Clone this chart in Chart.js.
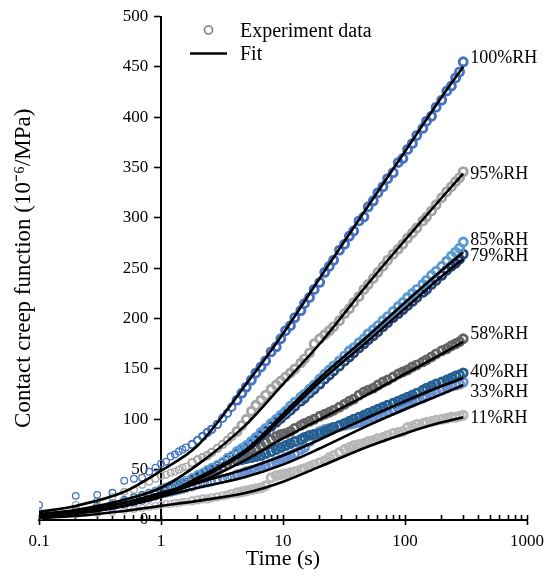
<!DOCTYPE html>
<html><head><meta charset="utf-8">
<script src="https://cdn.jsdelivr.net/npm/chart.js@4.4.1/dist/chart.umd.min.js"></script>
<style>html,body{margin:0;padding:0;background:#fff}canvas{display:block}</style>
</head><body>
<canvas id="c" width="552" height="577"></canvas>
<script>
// ---------- data ----------
const time = [0.1,0.2,0.3,0.4,0.5,0.6,0.7,0.8,0.9,1,
  1.1,1.2,1.3,1.4,1.5,1.6,1.8,2,
  2.2,2.4,2.6,2.9,3.2,3.5,3.8,4.2,4.6,5,5.5,6,6.6,7.2,8,8.8,9.6,
  10.5,11.5,12.5,14,15,16.5,18,20,22,24,26,29,32,35,38,42,46,50,55,60,66,72,80,88,96,
  105,115,125,140,150,165,180,200,220,240,260,280,300];

const exp100 = [15,24,25,27,39,41,42,48,52,56,
  58,63,65,68,70,72,75,79,
  83,87,90,95,101,106,112,119,126,132,139,146,152,158,167,172,180,
  188,193,201,208,215,221,229,236,246,252,258,268,274,282,287,297,301,311,317,325,331,339,345,355,359,
  368,374,382,389,396,401,410,417,426,431,439,445,455];
const exp95 = [8,15,19,23,28,30,35,38,41,44,
  45,47,48,50,52,53,57,60,
  62,64,67,71,75,79,83,88,94,100,108,114,119,124,130,134,138,
  142,146,150,156,160,166,175,180,184,188,192,198,205,210,216,222,229,234,240,246,252,258,264,269,274,
  280,285,290,297,301,307,313,320,326,331,336,340,346];
const exp85 = [5,9,12,16,19,22,24,27,29,31,
  33,35,36,37,38,40,42,45,
  47,50,52,55,58,62,64,68,71,74,78,82,87,91,96,100,104,
  108,113,117,122,125,130,134,140,145,149,153,158,163,168,171,176,180,185,189,193,198,202,207,212,216,
  221,225,229,234,238,243,247,252,257,262,266,270,276];
const exp79 = [4,8,11,14,17,20,22,24,26,28,
  30,32,34,35,37,38,41,43,
  46,48,50,54,57,60,63,66,69,72,76,79,84,88,93,97,101,
  105,109,113,118,121,126,130,135,140,144,148,153,158,162,166,171,175,179,183,187,192,196,201,205,209,
  213,217,221,226,229,234,238,243,248,252,255,259,264];
const exp58 = [5,10,13,15,18,20,22,24,26,27,
  29,31,32,33,35,36,38,40,
  42,44,46,49,52,55,57,60,63,65,68,71,74,77,80,83,85,
  86,88,91,94,96,98,100,103,105,107,109,112,115,118,120,124,127,129,131,134,137,139,142,145,147,
  149,152,154,157,159,162,165,168,170,173,175,177,180];
const exp40 = [6,11,14,17,20,23,25,27,29,31,
  33,34,35,36,37,38,40,42,
  44,46,48,51,53,55,57,59,60,61,62,63,64,66,68,70,72,
  74,76,78,80,82,84,85,86,88,90,92,94,96,98,100,102,104,106,108,110,112,114,116,118,120,
  122,124,126,129,131,133,135,137,139,141,143,144,146];
const exp33 = [4,8,10,12,15,17,19,21,23,25,
  26,27,28,29,30,31,33,35,
  36,37,38,40,41,42,43,45,46,48,49,50,52,54,56,58,60,
  62,64,66,70,72,78,85,88,90,91,92,93,94,95,96,97,98,99,101,103,105,107,109,111,113,
  115,117,119,121,123,125,127,129,131,133,134,135,137];
const exp11 = [3,6,7,8,10,11,12,13,14,15,
  16,16,17,17,18,18,19,20,
  21,21,22,23,24,25,26,27,28,29,30,31,32,34,42,44,45,
  46,47,48,50,51,53,55,57,59,62,64,67,70,72,74,75,76,78,79,81,82,84,86,87,88,
  92,93,95,96,97,98,99,100,101,102,102,103,104];

const fitTime = [0.1,0.2,0.5,1,2,5,10,20,50,100,200,300];
const fit100 = [8,14,28,49,74,135,185,240,312,366,420,450];
const fit95  = [6,10,20,32,55,95,135,175,235,278,320,344];
const fit85  = [4,7,14,24,42,70,105,141,183,216,248,266];
const fit79  = [4,7,14,23,40,68,102,137,178,210,242,259];
const fit58  = [5,9,17,25,37,60,81,100,125,145,165,177];
const fit40  = [4,8,17,27,37,51,64,80,102,118,133,141];
const fit33  = [3,6,14,23,32,43,55,71,94,110,125,134];
const fit11  = [2,4,9,14,19,27,38,53,73,86,97,102];

const seriesNames = ['100%RH','95%RH','85%RH','79%RH','58%RH','40%RH','33%RH','11%RH'];
const labelBaseline = [454,339,273,257,180,142,122,96];
const xMajorTicks = [0.1,1,10,100,1000];
const xMinorTicks = [0.2,0.3,0.4,0.5,0.6,0.7,0.8,0.9,2,3,4,5,6,7,8,9,20,30,40,50,60,70,80,90,200,300,400,500,600,700,800,900];
const yTicks = [0,50,100,150,200,250,300,350,400,450,500];

// ---------- styling ----------
const FONT = "'Liberation Serif','Times New Roman',serif";
const expSets = [exp100,exp95,exp85,exp79,exp58,exp40,exp33,exp11];
const fitSets = [fit100,fit95,fit85,fit79,fit58,fit40,fit33,fit11];
const colors = ['#4472C4','#A5A5A5','#5B9BD5','#264478','#636363','#255E91','#698ED0','#B7B7B7'];

// marker style: thin rings where samples are sparse, heavier rings where the band is dense
const ringRadius = c => { const x = c.raw ? c.raw.x : 0; return x > 4 ? 4 : (x > 1.7 ? 3.7 : 3.3); };
const ringWidth  = c => { const x = c.raw ? c.raw.x : 0; return x > 4 ? 2.9 : (x > 1.7 ? 2 : 1.3); };

const datasets = [];
fitSets.forEach((f, i) => {
  datasets.push({
    label: 'Fit ' + seriesNames[i],
    data: fitTime.map((t, k) => ({x: t, y: f[k]})),
    showLine: true, pointRadius: 0, borderColor: '#000', borderWidth: 2.6,
    cubicInterpolationMode: 'monotone', order: 0
  });
});
expSets.forEach((d, i) => {
  datasets.push({
    label: seriesNames[i],
    data: time.map((t, k) => ({x: t, y: d[k]})),
    showLine: false,
    pointRadius: ringRadius,
    pointBorderWidth: ringWidth,
    borderColor: colors[i], backgroundColor: 'rgba(0,0,0,0)',
    pointBackgroundColor: 'rgba(0,0,0,0)', order: 1
  });
});

const annotations = {
  id: 'annotations',
  afterDraw(chart) {
    const ctx = chart.ctx;
    const xs = chart.scales.x, ys = chart.scales.y;
    ctx.save();
    ctx.fillStyle = '#000';
    ctx.textBaseline = 'alphabetic';
    ctx.textAlign = 'left';
    ctx.font = '18px ' + FONT;
    const lx = xs.getPixelForValue(300) + 7;
    seriesNames.forEach((n, i) => ctx.fillText(n, lx, ys.getPixelForValue(labelBaseline[i])));
    // legend
    ctx.font = '20px ' + FONT;
    ctx.beginPath();
    ctx.arc(208.5, 30, 4, 0, Math.PI * 2);
    ctx.strokeStyle = '#7F7F7F';
    ctx.lineWidth = 1.6;
    ctx.stroke();
    ctx.fillText('Experiment data', 240, 36.5);
    ctx.beginPath();
    ctx.moveTo(190, 53.5); ctx.lineTo(227, 53.5);
    ctx.strokeStyle = '#000';
    ctx.lineWidth = 2.6;
    ctx.stroke();
    ctx.fillText('Fit', 240, 59.5);
    ctx.restore();
  }
};

new Chart(document.getElementById('c'), {
  type: 'scatter',
  data: {datasets},
  plugins: [annotations],
  options: {
    responsive: false, animation: false, devicePixelRatio: 1, events: [],
    layout: {padding: {left: 4, right: 6, top: 5, bottom: 5}},
    plugins: {legend: {display: false}, tooltip: {enabled: false}},
    scales: {
      x: {
        type: 'logarithmic', axis: 'x', position: 'bottom', min: 0.1, max: 1000,
        afterBuildTicks: s => { s.ticks = xMajorTicks.map(v => ({value: v})); },
        ticks: {autoSkip: false, maxRotation: 0, color: '#000', padding: 8,
          font: {family: FONT, size: 17, lineHeight: 1}, callback: v => String(v)},
        grid: {display: true, drawOnChartArea: false, drawTicks: true, tickLength: 5, tickWidth: 1.6, tickColor: '#000'},
        border: {display: true, color: '#000', width: 2},
        title: {display: true, text: 'Time (s)', color: '#000',
          font: {family: FONT, size: 22, lineHeight: 1}, padding: {top: -10, bottom: 2}}
      },
      xMinor: {
        type: 'logarithmic', axis: 'x', position: {y: 0}, min: 0.1, max: 1000,
        afterBuildTicks: s => { s.ticks = xMinorTicks.concat(xMajorTicks).map(v => ({value: v})); },
        afterFit: s => { s.height = 0; },
        ticks: {display: false},
        grid: {display: true, drawOnChartArea: false, drawTicks: true, tickLength: -5, tickWidth: 1.6, tickColor: '#000'},
        border: {display: false}
      },
      y: {
        type: 'linear', axis: 'y', position: {x: 1}, min: 0, max: 500,
        afterBuildTicks: s => { s.ticks = yTicks.map(v => ({value: v})); },
        afterFit: s => { s.width = 0; },
        ticks: {color: '#000', padding: 8, font: {family: FONT, size: 17, lineHeight: 1},
          callback: v => String(v) + '   '},
        grid: {display: true, drawOnChartArea: false, drawTicks: true, tickLength: 6, tickWidth: 1.6, tickColor: '#000'},
        border: {display: true, color: '#000', width: 2}
      },
      yTitle: {
        type: 'linear', axis: 'y', position: 'left', min: 0, max: 500,
        grid: {display: false, drawTicks: false}, border: {display: false}, ticks: {display: false},
        title: {display: true, text: 'Contact creep function (10\u207B\u2076/MPa)', color: '#000',
          font: {family: FONT, size: 23, lineHeight: 1}, padding: {top: 8, bottom: 4}}
      }
    }
  }
});
</script>
</body></html>
